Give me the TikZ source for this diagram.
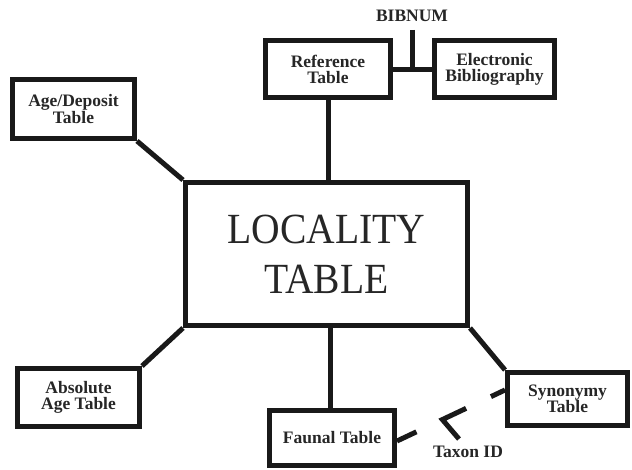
\documentclass[tikz,border=0pt]{standalone}
\usepackage{fontspec}
\setmainfont{Liberation Serif}
\usetikzlibrary{calc}
\begin{document}
\begin{tikzpicture}[x=1pt,y=-1pt,
  tbl/.style={draw=black!90,line width=5pt,rectangle,inner sep=0pt,align=center,
    font=\fontsize{17.5}{16}\selectfont\bfseries,text=black!85},
  conn/.style={draw=black!90,line width=5pt},
  lbl/.style={font=\fontsize{17.5}{16}\selectfont\bfseries,text=black!85,inner sep=0pt}]
\useasboundingbox (0,0) rectangle (632,470);
\node[tbl,minimum width=282,minimum height=143,font=\fontsize{43}{50}\selectfont] (loc) at (326.5,254)
  {\scalebox{0.92}[1]{LOCALITY}\\\scalebox{0.92}[1]{TABLE}};
\node[tbl,minimum width=125,minimum height=57] (ref) at (328,69) {Reference\\Table};
\node[tbl,minimum width=120,minimum height=57] (ebib) at (494.5,69) {Electronic\\Bibliography};
\node[tbl,minimum width=122,minimum height=59] (age) at (73.5,109) {Age/Deposit\\Table};
\node[tbl,minimum width=122,minimum height=58] (abs) at (78.5,397.5) {Absolute\\Age Table};
\node[tbl,minimum width=125,minimum height=55] (faun) at (332,438) {Faunal Table};
\node[tbl,minimum width=120,minimum height=53] (syn) at (567.5,399) {Synonymy\\Table};
\node[lbl] (bib) at (412,16) {BIBNUM};
\node[lbl] (tax) at (468,452) {Taxon ID};
% connectors
\draw[conn] (ref.south -| 328,0) -- (loc.north -| 328,0);
\draw[conn] (loc.south -| 330,0) -- (faun.north -| 330,0);
\draw[conn] (age.south east) -- (loc.north west);
\draw[conn] (abs.north east) -- (loc.south west);
\draw[conn] (syn.north west) -- (loc.south east);
\coordinate (bj) at (412,70);
\coordinate (btop) at (412,30);
\draw[conn] (ref.east |- bj) -- (ebib.west |- bj);
\draw[conn] (btop) -- (bj);
% Taxon ID link
\coordinate (ta) at (faun.east |- 0,441);
\coordinate (tb) at (syn.west |- 0,390);
\coordinate (t1) at ($(ta)!0.18!(tb)$);
\coordinate (tv) at ($(ta)!0.42!(tb)$);
\coordinate (t2) at ($(ta)!0.64!(tb)$);
\coordinate (t3) at ($(ta)!0.87!(tb)$);
\coordinate (tleg) at (459,439);
\draw[conn] (ta) -- (t1);
\draw[conn,line join=miter] (t2) -- (tv) -- (tleg);
\draw[conn] (t3) -- (tb);
\end{tikzpicture}
\end{document}
